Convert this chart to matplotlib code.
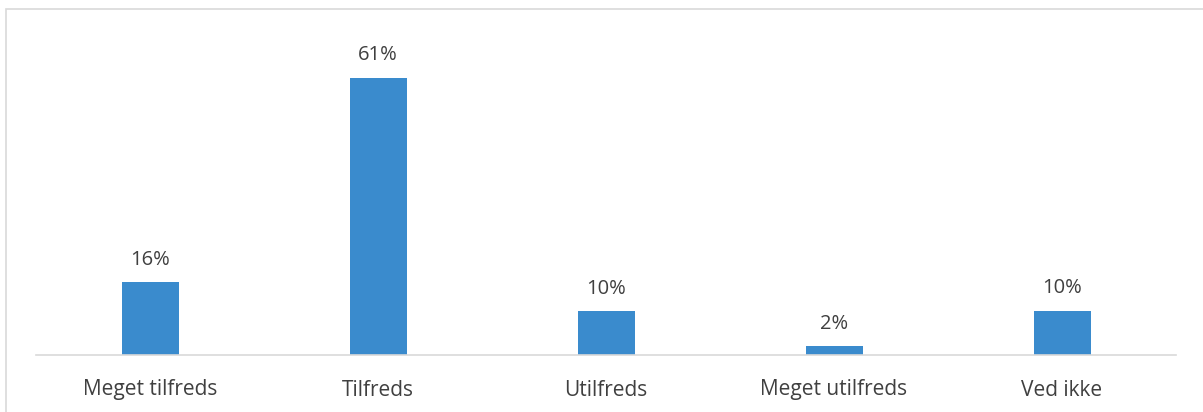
import matplotlib.pyplot as plt
from matplotlib.patches import Rectangle

categories = ["Meget tilfreds", "Tilfreds", "Utilfreds", "Meget utilfreds", "Ved ikke"]
values = [15.9, 61.0, 9.5, 1.8, 9.7]
labels = ["16%", "61%", "10%", "2%", "10%"]

W, H = 1203, 412
fig = plt.figure(figsize=(W / 100, H / 100), dpi=100)

# outer chart border (only top and left visible in the crop)
fig.patches.append(Rectangle((6 / W, -0.1), 1.2, 1 - 9 / H + 0.1, transform=fig.transFigure,
                             fill=False, edgecolor="#d9d9d9", linewidth=1.2))

# plot area: baseline at y=354, x from 36 to 1176
ax = fig.add_axes([36 / W, 1 - 354.5 / H, 1140 / W, (354.5 - 37) / H])
x = range(len(categories))
ax.bar(x, values, width=0.25, color="#3a8bcd")
ax.set_xlim(-0.5, len(categories) - 0.5)
ax.set_ylim(0, 70)

for xi, v, lab in zip(x, values, labels):
    ax.text(xi, v + 2.8, lab, ha="center", va="bottom", fontsize=14.5,
            color="#404040", family="Open Sans")

ax.set_xticks(list(x))
ax.set_xticklabels(categories, fontsize=15, color="#404040", family="Open Sans")
ax.tick_params(axis="x", length=0, pad=18)
ax.set_yticks([])
for side in ["top", "right", "left"]:
    ax.spines[side].set_visible(False)
ax.spines["bottom"].set_color("#d9d9d9")
ax.spines["bottom"].set_linewidth(1.2)
ax.patch.set_visible(False)

fig.savefig("out.png", dpi=100)
